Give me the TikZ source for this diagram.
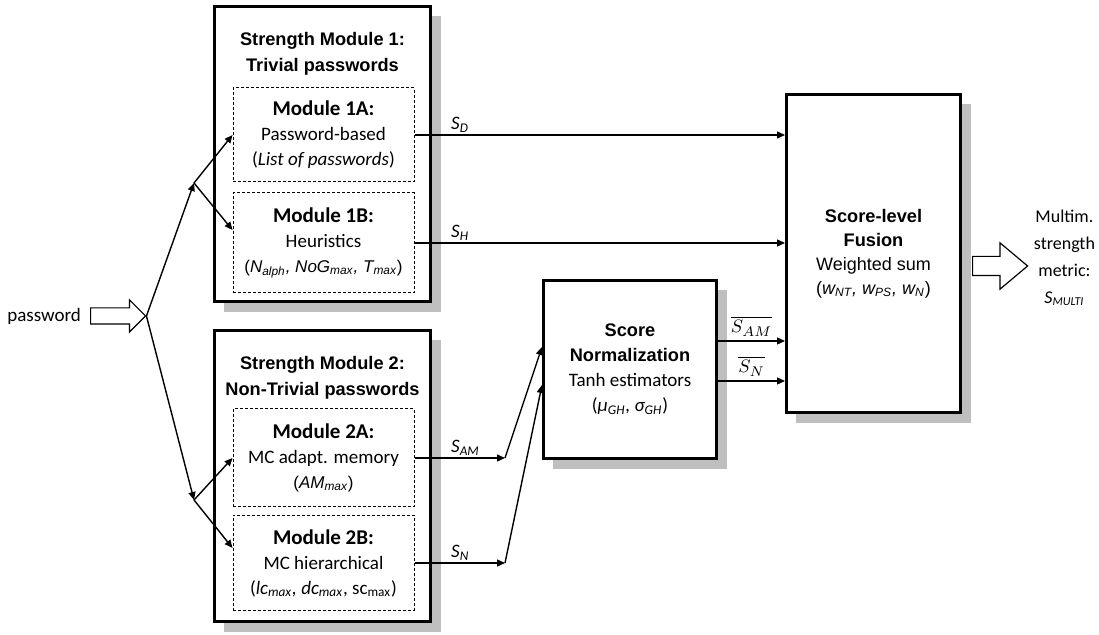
\documentclass[tikz,border=0pt]{standalone}
\usepackage{fontspec}
\setmainfont{Carlito}
\newfontfamily\arialfont{Liberation Sans}
\usetikzlibrary{positioning,arrows.meta,shapes.arrows,shadows}

\newcommand\sbs[1]{\textsubscript{#1}}
\newcommand\boldhead{\arialfont\bfseries\fontsize{9.1}{11}\selectfont}
\newcommand\modhead{\bfseries\fontsize{10.5}{12.5}\selectfont}
\newcommand\plainsize{\fontsize{9.5}{12.5}\selectfont}

\tikzset{
  stage/.style={draw, line width=1pt, fill=white, inner sep=0pt,
    drop shadow={shadow xshift=5pt, shadow yshift=-5pt, fill=black!25, opacity=1}},
  submod/.style={draw, line width=0.5pt, dash pattern=on 1.5pt off 1pt,
    fill=white, inner sep=0pt, align=center, minimum width=90.5pt, font=\plainsize},
  flow/.style={line width=0.7pt, -{Triangle[length=4pt,width=3.5pt]}},
  sig/.style={font=\plainsize\itshape, inner sep=1pt},
  fatarrow/.style={single arrow, draw, line width=0.6pt, fill=white, inner xsep=0pt,
    single arrow head indent=0pt, anchor=tail}
}

\begin{document}
\begin{tikzpicture}[x=0.5pt, y=-0.5pt]
\useasboundingbox (0,0) rectangle (1099,635);

% strength modules
\node[stage, minimum width=108.5pt, minimum height=148pt] (mod1) at (322.5,154) {};
\node[stage, minimum width=108.5pt, minimum height=146pt] (mod2) at (322.5,476) {};

% normalization and fusion
\node[stage, minimum width=87pt, minimum height=89.5pt, align=center, font=\plainsize] (norm) at (630,369.5)
  {{\boldhead Score}\\{\boldhead Normalization}\\Tanh estimators\\(\textit{μ\sbs{GH}, σ\sbs{GH}})};
\node[stage, minimum width=87.5pt, minimum height=159.5pt, align=center, font=\arialfont\fontsize{9}{12}\selectfont] (fusion) at (873.5,253.5)
  {{\boldhead Score-level}\\{\boldhead Fusion}\\Weighted sum\\(\textit{w\sbs{NT}, w\sbs{PS}, w\sbs{N}})};

% inner line of the double frames
\foreach \b in {mod1,mod2,norm,fusion}
  \draw[line width=0.5pt] ([shift={(1.25pt,-1.25pt)}]\b.north west) rectangle ([shift={(-1.25pt,1.25pt)}]\b.south east);

\node[font=\boldhead, align=center] (title1) at (322.5,54) {Strength Module 1:\\[2pt]Trivial passwords};
\node[font=\boldhead, align=center] (title2) at (322.5,378) {Strength Module 2:\\[2pt]Non-Trivial passwords};

\node[submod, minimum height=47pt] (m1a) at (323.5,135)
  {{\modhead Module 1A:}\\Password-based\\(\textit{List of passwords})};
\node[submod, minimum height=50pt] (m1b) at (323.5,243)
  {{\modhead Module 1B:}\\Heuristics\\{\arialfont\fontsize{8.5}{12.5}\selectfont(\textit{N\sbs{alph}, NoG\sbs{max}, T\sbs{max}})}};
\node[submod, minimum height=49pt] (m2a) at (323.5,458)
  {{\modhead Module 2A:}\\MC adapt. memory\\{\arialfont\fontsize{8.5}{12.5}\selectfont(\textit{AM\sbs{max}})}};
\node[submod, minimum height=47.5pt] (m2b) at (323.5,563)
  {{\modhead Module 2B:}\\MC hierarchical\\(\textit{lc\sbs{max}, dc\sbs{max}}, sc\sbs{max})};

% input
\node[fatarrow, minimum height=27.5pt, inner ysep=3.75pt, single arrow head extend=4pt] (pwarrow) at (90,316) {};
\node[left=1pt of pwarrow.tail, font=\plainsize] (pw) {password};

\coordinate (fork1) at (194,183);
\coordinate (fork2) at (194,500);
\draw[flow] (pwarrow.tip) -- (fork1);
\draw[flow] (pwarrow.tip) -- (fork2);
\draw[flow] (fork1) -- (m1a.west);
\draw[flow] (fork1) -- ([yshift=6.5pt]m1b.west);
\draw[flow] (fork2) -- (m2a.west);
\draw[flow] (fork2) -- ([yshift=7.5pt]m2b.west);

% scores
\draw[flow] (m1a.east) -- node[sig, at start, anchor=south west, xshift=17pt] {S\sbs{D}} (m1a.east -| fusion.west);
\draw[flow] (m1b.east) -- node[sig, at start, anchor=south west, xshift=17pt] {S\sbs{H}} (m1b.east -| fusion.west);
\coordinate (jam) at (505,458);
\coordinate (jn) at (505,563);
\draw[flow] (m2a.east) -- node[sig, at start, anchor=south west, xshift=17pt] {S\sbs{AM}} (jam);
\draw[flow] (m2b.east) -- node[sig, at start, anchor=south west, xshift=17pt] {S\sbs{N}} (jn);
\draw[flow] (jam) -- ([yshift=11.25pt]norm.west);
\draw[flow] (jn) -- ([yshift=-7.75pt]norm.west);

\coordinate (nout1) at ([yshift=14.25pt]norm.east);
\coordinate (nout2) at ([yshift=-5.75pt]norm.east);
\draw[flow] (nout1) -- node[above, font=\plainsize, inner sep=2pt] {$\overline{S_{AM}}$} (nout1 -| fusion.west);
\draw[flow] (nout2) -- node[above, font=\plainsize, inner sep=2pt] {$\overline{S_{N}}$} (nout2 -| fusion.west);

% output
\node[fatarrow, minimum height=27.5pt, inner ysep=4.5pt, single arrow head extend=6.75pt, single arrow tip angle=80] (outarrow) at (972,266) {};
\node[right=1.5pt of outarrow.tip, inner sep=1pt, yshift=4pt, font=\fontsize{9}{12.5}\selectfont, align=center] (metric)
  {Multim.\\[1pt]strength\\[1pt]metric:\\[1pt]\textit{S\sbs{MULTI}}};
\end{tikzpicture}
\end{document}
